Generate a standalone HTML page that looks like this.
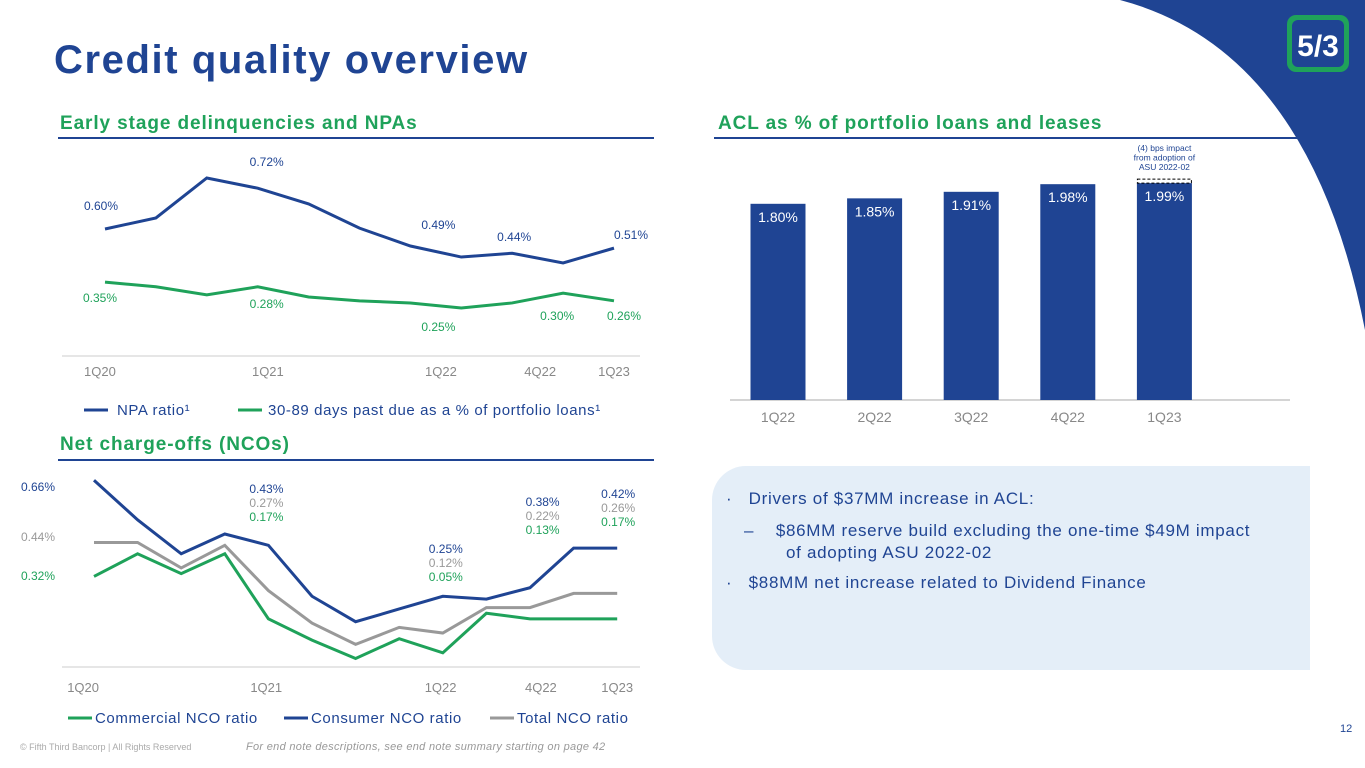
<!DOCTYPE html>
<html><head><meta charset="utf-8"><style>
body{margin:0;width:1365px;height:768px;overflow:hidden;background:#fff;font-family:"Liberation Sans",sans-serif;position:relative}
.abs{position:absolute}
.h{color:#1fa25a;font-weight:bold;font-size:19px;letter-spacing:0.9px}
.rule{height:2px;background:#1f4493}
</style></head><body>
<svg class="abs" style="left:0;top:0" width="1365" height="768">
<path d="M1120,0 Q1310,50 1365,330 L1365,0 Z" fill="#1f4493"/>
<g>
<rect x="1287" y="15" width="62" height="57" rx="9" fill="#1fa25a"/>
<rect x="1292" y="20" width="52" height="47" rx="6" fill="#1f4493"/>
<text x="1318" y="56" font-size="30" font-weight="bold" fill="#fff" text-anchor="middle" font-family="Liberation Sans">5/3</text>
</g>
</svg>
<div class="abs" style="left:54px;top:38px;font-size:40px;font-weight:bold;color:#1f4493;letter-spacing:1.6px">Credit quality overview</div>
<div class="abs h" style="left:60px;top:113px">Early stage delinquencies and NPAs</div>
<div class="abs rule" style="left:58px;top:137px;width:596px"></div>
<div class="abs h" style="left:718px;top:113px">ACL as % of portfolio loans and leases</div>
<div class="abs rule" style="left:714px;top:137px;width:597px"></div>
<div class="abs h" style="left:60px;top:434px">Net charge-offs (NCOs)</div>
<div class="abs rule" style="left:58px;top:459px;width:596px"></div>

<div class="abs" style="left:712px;top:466px;width:598px;height:204px;background:#e4eef8;border-radius:34px 0 0 34px">
<div class="abs" style="left:14px;top:22px;font-size:17px;color:#1f4493;line-height:22px;width:530px;letter-spacing:0.7px">
<div>·&nbsp;&nbsp;&nbsp;Drivers of $37MM increase in ACL:</div>
<div style="margin:10px 0 0 0;padding-left:60px;text-indent:-42px">–&nbsp;&nbsp;&nbsp;&nbsp;$86MM reserve build excluding the one-time $49M impact of adopting ASU 2022-02</div>
<div style="margin-top:8px">·&nbsp;&nbsp;&nbsp;$88MM net increase related to Dividend Finance</div>
</div></div>

<div class="abs" style="left:1340px;top:723px;font-size:11px;color:#1f4493">12</div>
<div class="abs" style="left:20px;top:742px;font-size:9px;color:#aaa">© Fifth Third Bancorp | All Rights Reserved</div>
<div class="abs" style="left:246px;top:741px;font-size:11px;color:#999;font-style:italic;letter-spacing:0.3px">For end note descriptions, see end note summary starting on page 42</div>

<svg id="ch" class="abs" style="left:0;top:0" width="1365" height="768" font-family="Liberation Sans"></svg>
<script>
// Top-left chart
const topCats=['1Q20','','','1Q21','','','','1Q22','','4Q22','1Q23'];
const topTicks=[['1Q20',-0.1],['1Q21',3.2],['1Q22',6.6],['4Q22',8.55],['1Q23',10]];
const npa=[0.60,0.626,0.72,0.696,0.659,0.602,0.560,0.534,0.543,0.520,0.555];
const dpd=[0.475,0.464,0.445,0.464,0.440,0.431,0.426,0.414,0.426,0.449,0.431];
const npaLbl=[[0,'0.60%'],[3,'0.72%'],[6,'0.49%'],[8,'0.44%'],[10,'0.51%']];
const dpdLbl=[[0,'0.35%'],[3,'0.28%'],[6,'0.25%'],[8,'0.30%'],[10,'0.26%']];
// NCO chart
const ncoCats=['1Q20','2Q20','3Q20','4Q20','1Q21','2Q21','3Q21','4Q21','1Q22','2Q22','3Q22','4Q22','1Q23'];
const consumer=[0.66,0.52,0.40,0.47,0.43,0.25,0.16,0.205,0.25,0.24,0.28,0.42,0.42];
const total=[0.44,0.44,0.35,0.43,0.27,0.155,0.08,0.14,0.12,0.21,0.21,0.26,0.26];
const commercial=[0.32,0.40,0.33,0.40,0.17,0.095,0.03,0.10,0.05,0.19,0.17,0.17,0.17];
const ncoTicks=[['1Q20',-0.25],['1Q21',3.95],['1Q22',7.95],['4Q22',10.25],['1Q23',12]];
const ncoLbl=[[4,'0.43%','0.27%','0.17%'],[8,'0.25%','0.12%','0.05%'],[11,'0.38%','0.22%','0.13%'],[12,'0.42%','0.26%','0.17%']];
// ACL bars
const aclCats=['1Q22','2Q22','3Q22','4Q22','1Q23'];
const acl=[1.80,1.85,1.91,1.98,1.99];

const NS='http://www.w3.org/2000/svg',svg=document.getElementById('ch');
const BLUE='#1f4493',GREEN='#1fa25a',GRAY='#999';
function mk(t,a,p){const e=document.createElementNS(NS,t);for(const k in a)e.setAttribute(k,a[k]);(p||svg).appendChild(e);return e;}
function txt(x,y,s,fill,size,anchor){const e=mk('text',{x:x,y:y,fill:fill,'font-size':size||12,'text-anchor':anchor||'middle'});e.textContent=s;return e;}

// top chart
const tx=i=>105+i*50.9, ty=v=>229-(v-0.60)*425;
let e=mk('line',{x1:62,x2:640,y1:356,y2:356,stroke:'#ccc'});


topTicks.forEach(t=>{const l=txt(tx(t[1]),376,t[0],'#888',13);

});
[[npa,BLUE,'npa-line'],[dpd,GREEN,'delinquency-line']].forEach(s=>{const p=mk('polyline',{points:s[0].map((v,i)=>tx(i)+','+ty(v)).join(' '),fill:'none',stroke:s[1],'stroke-width':3});

});
// label offsets (style only)
const npaOff={0:[-4,-19],3:[9,-22],6:[28,-17],8:[2,-12],10:[17,-9]};
const dpdOff={0:[-5,20],3:[9,21],6:[28,28],8:[45,17],10:[10,19]};
npaLbl.forEach(l=>{const o=npaOff[l[0]];const t=txt(tx(l[0])+o[0],ty(npa[l[0]])+o[1],l[1],BLUE,12);

});
dpdLbl.forEach(l=>{const o=dpdOff[l[0]];const t=txt(tx(l[0])+o[0],ty(dpd[l[0]])+o[1],l[1],GREEN,12);

});
e=mk('g',{'font-size':15,'letter-spacing':0.6});


mk('line',{x1:84,x2:108,y1:410,y2:410,stroke:BLUE,'stroke-width':3},e);
let lt=txt(117,415,'NPA ratio¹','#1f4493',15,'start');e.appendChild(lt);
mk('line',{x1:238,x2:262,y1:410,y2:410,stroke:GREEN,'stroke-width':3},e);
lt=txt(268,415,'30-89 days past due as a % of portfolio loans¹','#1f4493',15,'start');e.appendChild(lt);

// NCO chart
const nx=i=>94+i*43.6, ny=v=>667-v*283;
e=mk('line',{x1:62,x2:640,y1:667,y2:667,stroke:'#ccc'});


ncoTicks.forEach(t=>{const l=txt(nx(t[1]),692,t[0],'#888',13);

});
[[total,GRAY,'total-nco-line'],[commercial,GREEN,'commercial-nco-line'],[consumer,BLUE,'consumer-nco-line']].forEach(s=>{const p=mk('polyline',{points:s[0].map((v,i)=>nx(i)+','+ny(v)).join(' '),fill:'none',stroke:s[1],'stroke-width':3});

});
[['0.66%',491,BLUE],['0.44%',541,GRAY],['0.32%',580,GREEN]].forEach(a=>{const t=txt(38,a[1],a[0],a[2],12);

});
const ncoOff={4:[-2,493],8:[3,553],11:[-31,506],12:[1,498]};
ncoLbl.forEach(l=>{const o=ncoOff[l[0]];const x=nx(l[0])+o[0];const y0=o[1];
[[l[1],BLUE],[l[2],GRAY],[l[3],GREEN]].forEach((s,k)=>{const t=txt(x,y0+k*14,s[0],s[1],12);

});});
e=mk('g',{'letter-spacing':0.6});


[[68,'Commercial NCO ratio',GREEN],[284,'Consumer NCO ratio',BLUE],[490,'Total NCO ratio',GRAY]].forEach(a=>{mk('line',{x1:a[0],x2:a[0]+24,y1:718,y2:718,stroke:a[2],'stroke-width':3},e);e.appendChild(txt(a[0]+27,723,a[1],'#1f4493',15,'start'));});

// ACL bars
const bx=i=>778+i*96.6, by=v=>400-v*109;
e=mk('line',{x1:730,x2:1290,y1:400,y2:400,stroke:'#aaa','stroke-width':1});


acl.forEach((v,i)=>{const r=mk('rect',{x:bx(i)-27.5,y:by(v),width:55,height:400-by(v),fill:BLUE});


const t=txt(bx(i),by(v)+18,v.toFixed(2)+'%','#fff',14);


const c=txt(bx(i),422,aclCats[i],'#888',14);

});
e=mk('rect',{x:bx(4)-27,y:by(acl[4])-4,width:54,height:4,fill:'#fff',stroke:'#000','stroke-dasharray':'3,2','stroke-width':1});


['(4) bps impact','from adoption of','ASU 2022-02'].forEach((s,k)=>{const t=txt(bx(4),151+k*9.5,s,BLUE,8.5);

});
</script>
</body></html>
